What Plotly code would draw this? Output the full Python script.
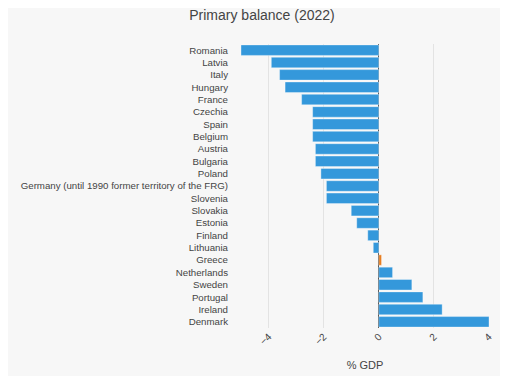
import plotly.graph_objects as go

countries = ["Romania", "Latvia", "Italy", "Hungary", "France", "Czechia", "Spain",
             "Belgium", "Austria", "Bulgaria", "Poland",
             "Germany (until 1990 former territory of the FRG)", "Slovenia", "Slovakia",
             "Estonia", "Finland", "Lithuania", "Greece", "Netherlands", "Sweden",
             "Portugal", "Ireland", "Denmark"]
values = [-5.0, -3.9, -3.6, -3.4, -2.8, -2.4, -2.4, -2.4, -2.3, -2.3, -2.1,
          -1.9, -1.9, -1.0, -0.8, -0.4, -0.2, 0.1, 0.5, 1.2, 1.6, 2.3, 4.0]
highlight = "Greece"

colors = ["#e67e22" if c == highlight else "#3498db" for c in countries]

fig = go.Figure(go.Bar(
    x=values, y=countries, orientation="h",
    marker=dict(color=colors, line=dict(color="rgba(255,255,255,0.35)", width=1)),
))

fig.update_layout(
    width=508, height=376,
    margin=dict(l=233, r=27, t=36, b=56),
    paper_bgcolor="#f7f7f7", plot_bgcolor="#f7f7f7",
    font=dict(family="Liberation Sans, Arial, sans-serif", size=10, color="#444"),
    title=dict(text="Primary balance (2022)", x=0.5, xanchor="center",
               y=0.98, yanchor="middle", font=dict(size=14, color="#444")),
    bargap=0.15,
    showlegend=False,
)
fig.update_xaxes(
    range=[-5.0, 4.0], tickvals=[-4, -2, 0, 2, 4], tickangle=-45,
    showgrid=True, gridcolor="#e3e3e3", zeroline=True, zerolinecolor="#555",
    zerolinewidth=1, title=dict(text="% GDP", font=dict(size=11, color="#444")),
    tickfont=dict(size=10, color="#444"), automargin=False,
)
fig.update_yaxes(autorange="reversed", showgrid=False, ticks="",
                 ticklabelstandoff=12, automargin=False,
                 tickfont=dict(size=9.7, color="#444"))

fig.write_html("out.html")
